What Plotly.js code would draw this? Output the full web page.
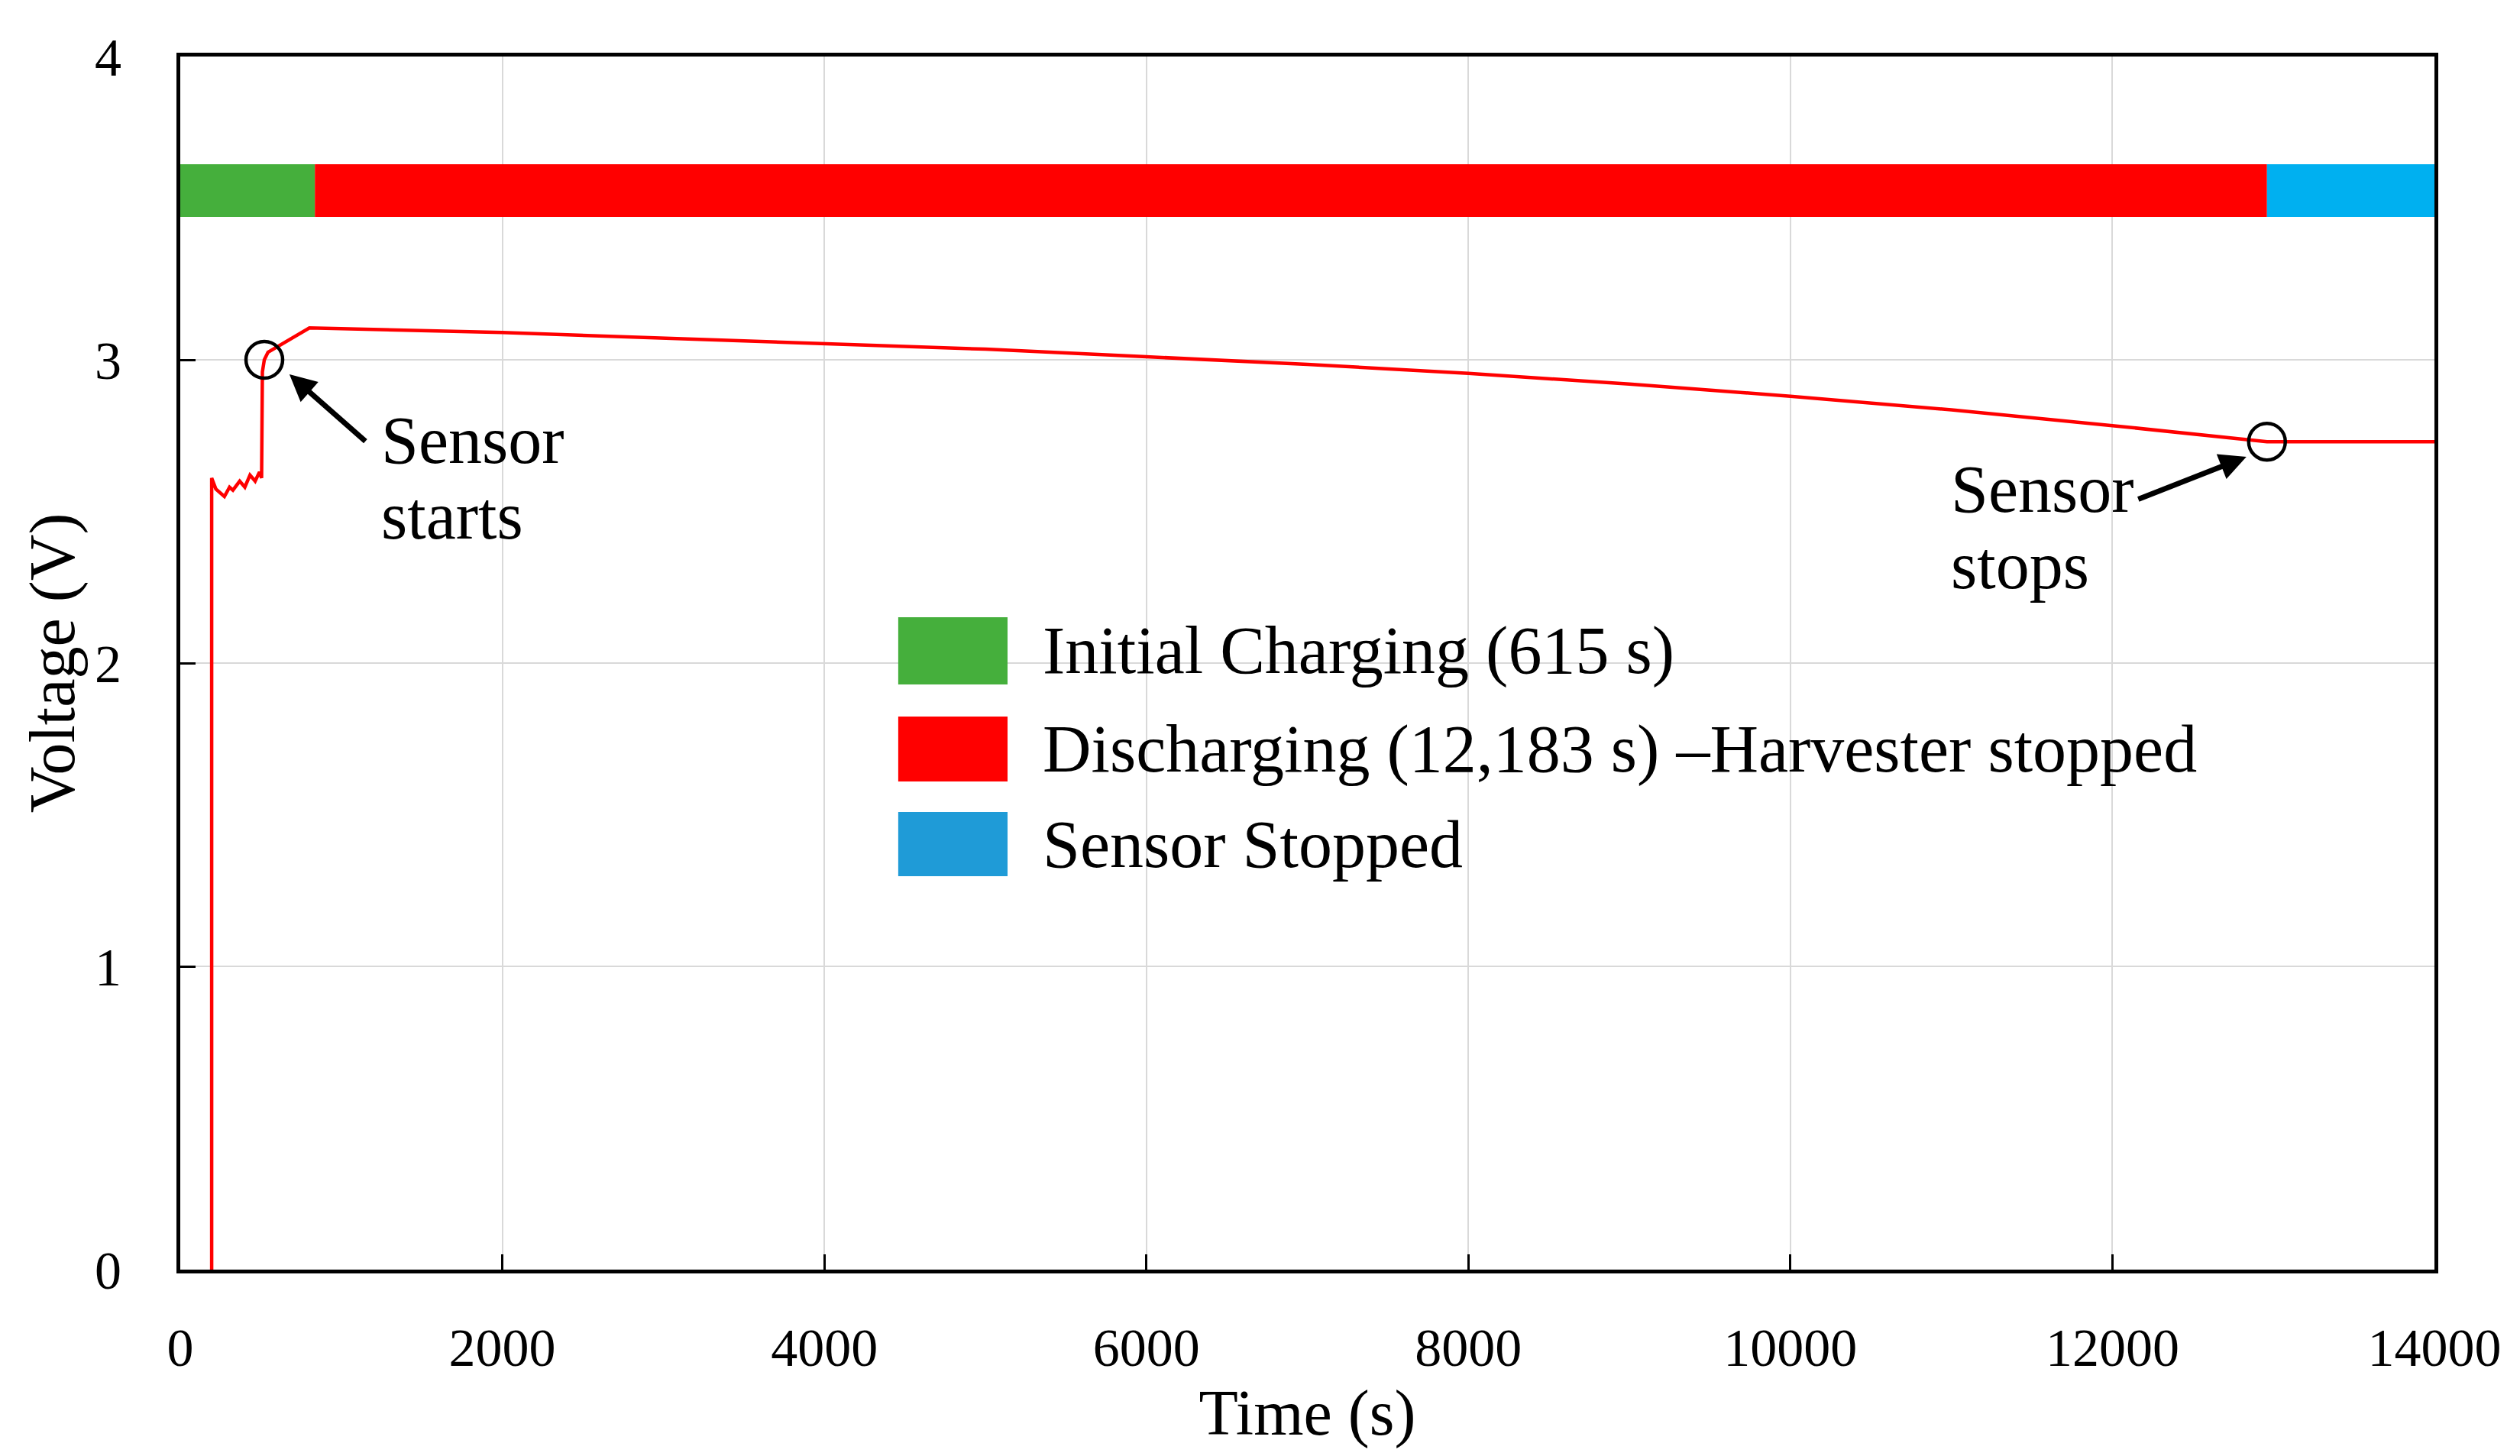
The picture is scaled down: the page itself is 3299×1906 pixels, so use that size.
<!DOCTYPE html>
<html>
<head>
<meta charset="utf-8">
<script src="https://cdn.plot.ly/plotly-3.0.1.min.js"></script>
<style>html,body{margin:0;padding:0;background:#fff;}#chart{width:3299px;height:1906px;}</style>
</head>
<body>
<div id="chart"></div>
<script>
// Voltage curve
const timeS = [195, 195, 221, 274, 306, 327, 369, 401, 433, 465, 492, 505, 510, 522, 545, 802,
  2000, 3000, 4000, 5000, 6000, 7000, 8000, 9000, 10000, 11000, 12000, 12960, 14000];
const voltageV = [0, 2.61, 2.574, 2.549, 2.58, 2.57, 2.60, 2.58, 2.62, 2.60, 2.63, 2.61, 2.96, 3.0, 3.025, 3.105,
  3.09, 3.072, 3.055, 3.035, 3.01, 2.985, 2.955, 2.92, 2.88, 2.835, 2.783, 2.73, 2.73];

// Event markers
const eventT = [522, 12960];
const eventV = [3.0, 2.73];
const eventLabels = ['Sensor starts', 'Sensor stops'];

// Phase bar at top
const phaseStart = [0, 836, 12960];
const phaseEnd = [836, 12960, 14000];
const phaseBarLevel = 3.558;
const phaseColors = ['#45AF3C', '#FF0000', '#00B0F0'];

// Legend entries
const legendNames = ['Initial Charging (615 s)', 'Discharging (12,183 s) \u2013Harvester stopped', 'Sensor Stopped'];
const legendColors = ['#45AF3C', '#FF0000', '#1F9BD7'];

const xTicks = [0, 2000, 4000, 6000, 8000, 10000, 12000, 14000];
const yTicks = [0, 1, 2, 3, 4];

const FONT = 'Liberation Serif, Times New Roman, serif';

const traces = [
  {
    type: 'bar', orientation: 'h',
    y: phaseStart.map(() => phaseBarLevel),
    base: phaseStart,
    x: phaseStart.map((s, i) => phaseEnd[i] - s),
    width: 0.174,
    marker: { color: phaseColors, line: { width: 0 } },
    showlegend: false, hoverinfo: 'skip'
  },
  {
    type: 'scatter', mode: 'lines',
    x: timeS, y: voltageV,
    line: { color: '#FF0000', width: 4.5 },
    showlegend: false
  },
  {
    type: 'scatter', mode: 'markers',
    x: eventT, y: eventV, text: eventLabels,
    marker: { symbol: 'circle-open', size: 48, color: '#000', line: { width: 4.5, color: '#000' } },
    showlegend: false
  }
];

// legend built from shapes and annotations (paper coords)
const swatchTop = [0.5378, 0.4559, 0.3772];
const swatchBot = [0.4824, 0.4024, 0.3243];
const shapes = legendNames.map((n, i) => ({
  type: 'rect', xref: 'paper', yref: 'paper',
  x0: 0.3185, x1: 0.367, y0: swatchBot[i], y1: swatchTop[i],
  fillcolor: legendColors[i], line: { width: 0 }
}));

const annotations = legendNames.map((n, i) => ({
  xref: 'paper', yref: 'paper', x: 0.3819, y: (swatchTop[i] + swatchBot[i]) / 2,
  xanchor: 'left', yanchor: 'middle', text: n, showarrow: false,
  font: { family: FONT, size: 88, color: '#000' }
}));

annotations.push(
  { x: 1238, y: 2.735, xanchor: 'left', yanchor: 'middle', text: 'Sensor', showarrow: false, font: { family: FONT, size: 88, color: '#000' } },
  { x: 1238, y: 2.486, xanchor: 'left', yanchor: 'middle', text: 'starts', showarrow: false, font: { family: FONT, size: 88, color: '#000' } },
  { x: 10987, y: 2.574, xanchor: 'left', yanchor: 'middle', text: 'Sensor', showarrow: false, font: { family: FONT, size: 88, color: '#000' } },
  { x: 10987, y: 2.32, xanchor: 'left', yanchor: 'middle', text: 'stops', showarrow: false, font: { family: FONT, size: 88, color: '#000' } },
  { x: 678, y: 2.952, ax: 101, ay: 89, text: '', showarrow: true, arrowhead: 2, arrowsize: 1, arrowwidth: 7, arrowcolor: '#000' },
  { x: 12832, y: 2.68, ax: -143, ay: 56, text: '', showarrow: true, arrowhead: 2, arrowsize: 1, arrowwidth: 7, arrowcolor: '#000' }
);

const axisCommon = {
  ticks: 'inside', ticklen: 20, tickwidth: 3, tickcolor: '#000',
  showline: true, linewidth: 5, linecolor: '#000', mirror: true,
  showgrid: true, gridcolor: '#D9D9D9', gridwidth: 2, zeroline: false,
  tickfont: { family: FONT, size: 70, color: '#000' }
};

const layout = {
  width: 3299, height: 1906,
  margin: { l: 236, r: 112, t: 74, b: 244 },
  paper_bgcolor: '#fff', plot_bgcolor: '#fff',
  showlegend: false,
  xaxis: Object.assign({}, axisCommon, {
    range: [0, 14000], tickvals: xTicks, tickformat: 'd', ticklabelstandoff: 37,
    title: { text: 'Time (s)', font: { family: FONT, size: 84, color: '#000' }, standoff: 0 }
  }),
  yaxis: Object.assign({}, axisCommon, {
    range: [0, 4], tickvals: yTicks, ticklabelstandoff: 58,
    title: { text: 'Voltage (V)', font: { family: FONT, size: 84, color: '#000' }, standoff: 0 }
  }),
  shapes: shapes,
  annotations: annotations
};

Plotly.newPlot('chart', traces, layout, { displayModeBar: false, staticPlot: true });
</script>
</body>
</html>
